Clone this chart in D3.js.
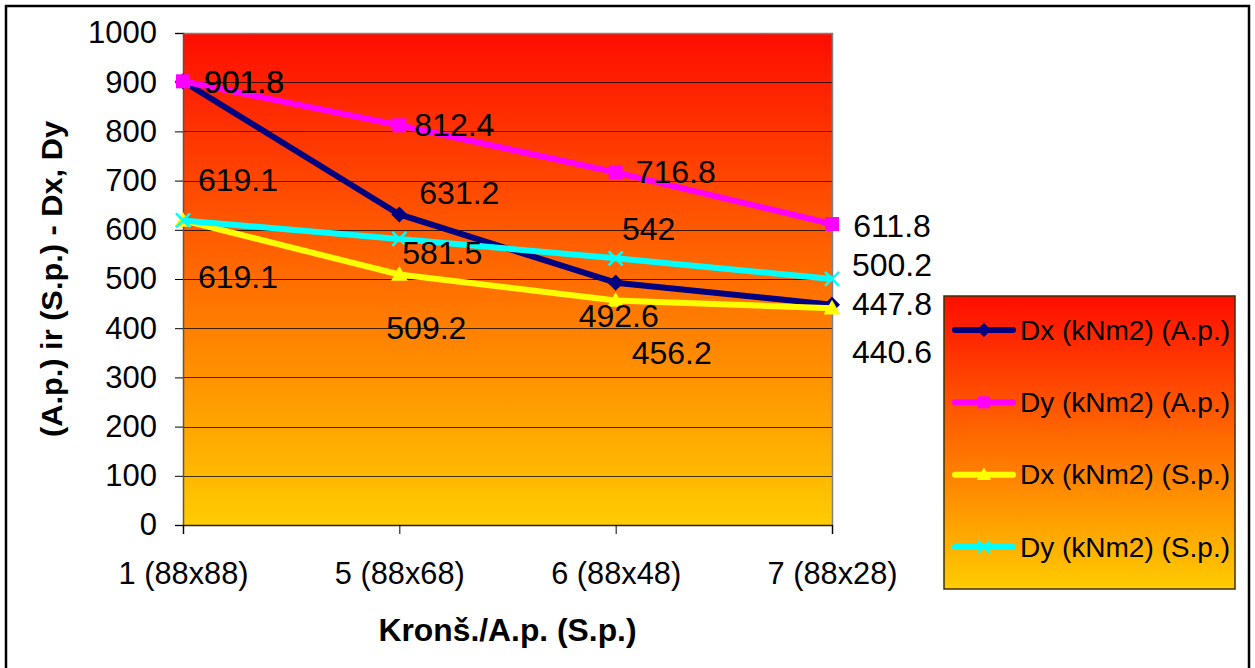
<!DOCTYPE html>
<html>
<head>
<meta charset="utf-8">
<script src="https://cdn.jsdelivr.net/npm/d3@7"></script>
<style>
  html, body { margin: 0; padding: 0; background: #fff; }
  svg { display: block; font-family: "Liberation Sans", Arial, sans-serif; }
</style>
</head>
<body>
<div id="chart"></div>
<script>
// categories and series
const categories = ['1 (88x88)', '5 (88x68)', '6 (88x48)', '7 (88x28)'];
const dxAp = [901.8, 631.2, 492.6, 447.8];
const dyAp = [901.8, 812.4, 716.8, 611.8];
const dxSp = [619.1, 509.2, 456.2, 440.6];
const dySp = [619.1, 581.5, 542, 500.2];
const yTicks = [0, 100, 200, 300, 400, 500, 600, 700, 800, 900, 1000];

const seriesNames = ['Dx (kNm2) (A.p.)', 'Dy (kNm2) (A.p.)', 'Dx (kNm2) (S.p.)', 'Dy (kNm2) (S.p.)'];

// label offsets (px) from each point, placed by hand in the original
const labelOffsets = [
  [[61, 1], [60, -21], [3, 33], [60, -1]],
  [[61, 1], [55, 0], [60, 0], [60, 2]],
  [[55, 57], [27, 54], [56, 52], [60, 44]],
  [[55, -40], [43, 14], [33, -29], [60, -14]]
];

const series = [
  { name: seriesNames[0], values: dxAp, color: '#000080', marker: 'diamond', offs: labelOffsets[0] },
  { name: seriesNames[1], values: dyAp, color: '#ff00ff', marker: 'square', offs: labelOffsets[1] },
  { name: seriesNames[2], values: dxSp, color: '#ffff00', marker: 'triangle', offs: labelOffsets[2] },
  { name: seriesNames[3], values: dySp, color: '#00ffff', marker: 'cross', offs: labelOffsets[3] }
];

const width = 1255, height = 668;
const plot = { left: 183, top: 33, right: 832, bottom: 525 };

const svg = d3.select('#chart').append('svg')
  .attr('width', width)
  .attr('height', height);

const defs = svg.append('defs');
const grad = defs.append('linearGradient')
  .attr('id', 'bgGrad')
  .attr('x1', 0).attr('y1', 0).attr('x2', 0).attr('y2', 1);
grad.append('stop').attr('offset', '0%').attr('stop-color', '#ff0d00');
grad.append('stop').attr('offset', '100%').attr('stop-color', '#ffcc00');

// outer frame
svg.append('rect')
  .attr('x', 6).attr('y', 6)
  .attr('width', 1243).attr('height', 670)
  .attr('fill', '#fff')
  .attr('stroke', '#000')
  .attr('stroke-width', 2.5);

// scales
const x = d3.scalePoint()
  .domain(categories)
  .range([plot.left, plot.right]);

const y = d3.scaleLinear()
  .domain([0, 1000])
  .range([plot.bottom, plot.top]);

// plot background
svg.append('rect')
  .attr('x', plot.left).attr('y', plot.top)
  .attr('width', plot.right - plot.left)
  .attr('height', plot.bottom - plot.top)
  .attr('fill', 'url(#bgGrad)');

// gridlines
svg.append('g')
  .selectAll('line')
  .data(yTicks.filter(d => d > 0 && d < 1000))
  .enter()
  .append('line')
  .attr('x1', plot.left).attr('x2', plot.right)
  .attr('y1', d => Math.round(y(d)) + 0.5)
  .attr('y2', d => Math.round(y(d)) + 0.5)
  .attr('stroke', '#000')
  .attr('stroke-opacity', 0.75)
  .attr('stroke-width', 1);

// plot border (top/right grey)
svg.append('path')
  .attr('d', `M${plot.left},${plot.top + 0.5}H${plot.right + 0.5}V${plot.bottom}`)
  .attr('fill', 'none')
  .attr('stroke', '#808080')
  .attr('stroke-width', 1.5);

// Y axis
const yAxis = d3.axisLeft(y)
  .tickValues(yTicks)
  .tickFormat(d3.format('d'))
  .tickSize(8)
  .tickPadding(18);

const gy = svg.append('g')
  .attr('transform', `translate(${plot.left},0)`)
  .call(yAxis);
gy.select('.domain').attr('stroke', '#555').attr('stroke-width', 1.5);
gy.selectAll('.tick line').attr('stroke', '#000');
gy.selectAll('.tick text')
  .attr('font-size', 31)
  .attr('fill', '#000')
  .attr('font-family', '"Liberation Sans", Arial, sans-serif');

// X axis
const xAxis = d3.axisBottom(x)
  .tickSize(9)
  .tickPadding(28);

const gx = svg.append('g')
  .attr('transform', `translate(0,${plot.bottom})`)
  .call(xAxis);
gx.select('.domain').attr('stroke', '#222').attr('stroke-width', 1.5);
gx.selectAll('.tick line').attr('stroke', '#000');
gx.selectAll('.tick text')
  .attr('font-size', 31)
  .attr('fill', '#000')
  .attr('font-family', '"Liberation Sans", Arial, sans-serif')
  .attr('textLength', 130)
  .attr('lengthAdjust', 'spacingAndGlyphs');

// axis titles
svg.append('text')
  .attr('transform', `translate(51,${(plot.top + plot.bottom) / 2}) rotate(-90)`)
  .attr('text-anchor', 'middle')
  .attr('dominant-baseline', 'central')
  .attr('font-size', 30)
  .attr('font-weight', 'bold')
  .attr('textLength', 316)
  .attr('lengthAdjust', 'spacingAndGlyphs')
  .text('(A.p.) ir (S.p.) - Dx, Dy');

svg.append('text')
  .attr('x', (plot.left + plot.right) / 2)
  .attr('y', 641)
  .attr('text-anchor', 'middle')
  .attr('font-size', 32)
  .attr('font-weight', 'bold')
  .attr('textLength', 258)
  .attr('lengthAdjust', 'spacingAndGlyphs')
  .text('Kronš./A.p. (S.p.)');

// markers
function drawMarker(g, type, color, cx, cy, s) {
  if (type === 'diamond') {
    g.append('path')
      .attr('d', `M${cx},${cy - s}L${cx + s},${cy}L${cx},${cy + s}L${cx - s},${cy}Z`)
      .attr('fill', color).attr('stroke', color).attr('stroke-width', 1.5);
  } else if (type === 'square') {
    g.append('rect')
      .attr('x', cx - s).attr('y', cy - s)
      .attr('width', s * 2).attr('height', s * 2)
      .attr('fill', color);
  } else if (type === 'triangle') {
    g.append('path')
      .attr('d', `M${cx},${cy - s * 1.2}L${cx + s * 1.2},${cy + s * 0.9}L${cx - s * 1.2},${cy + s * 0.9}Z`)
      .attr('fill', color);
  } else if (type === 'cross') {
    g.append('path')
      .attr('d', `M${cx - s},${cy - s}L${cx + s},${cy + s}M${cx + s},${cy - s}L${cx - s},${cy + s}`)
      .attr('stroke', color).attr('stroke-width', 2.5).attr('fill', 'none');
  }
}

const line = d3.line()
  .x((d, i) => x(categories[i]))
  .y(d => y(d));

series.forEach(s => {
  const g = svg.append('g');
  g.append('path')
    .datum(s.values)
    .attr('d', line)
    .attr('fill', 'none')
    .attr('stroke', s.color)
    .attr('stroke-width', 6)
    .attr('stroke-linejoin', 'round');
  s.values.forEach((v, i) => {
    drawMarker(g, s.marker, s.color, x(categories[i]), y(v), 7);
  });
});

// data labels
series.forEach(s => {
  svg.append('g')
    .selectAll('text')
    .data(s.values)
    .enter()
    .append('text')
    .attr('x', (d, i) => x(categories[i]) + s.offs[i][0])
    .attr('y', (d, i) => y(d) + s.offs[i][1])
    .attr('text-anchor', 'middle')
    .attr('dominant-baseline', 'central')
    .attr('font-size', 32)
    .attr('fill', '#000')
    .text(d => d);
});

// legend
const lg = { x: 944, y: 296, w: 291, h: 293 };
const legend = svg.append('g');
legend.append('rect')
  .attr('x', lg.x).attr('y', lg.y)
  .attr('width', lg.w).attr('height', lg.h)
  .attr('fill', 'url(#bgGrad)')
  .attr('stroke', '#3a3000')
  .attr('stroke-width', 1.5);

const legendY = d3.scalePoint()
  .domain(seriesNames)
  .range([330, 547]);

series.forEach(s => {
  const cy = legendY(s.name);
  legend.append('line')
    .attr('x1', 955).attr('x2', 1013)
    .attr('y1', cy).attr('y2', cy)
    .attr('stroke', s.color)
    .attr('stroke-width', 6)
    .attr('stroke-linecap', 'round');
  drawMarker(legend, s.marker, s.color, 984, cy, 6);
  legend.append('text')
    .attr('x', 1020)
    .attr('y', cy)
    .attr('dominant-baseline', 'central')
    .attr('font-size', 28)
    .attr('fill', '#000')
    .text(s.name);
});
</script>
</body>
</html>
